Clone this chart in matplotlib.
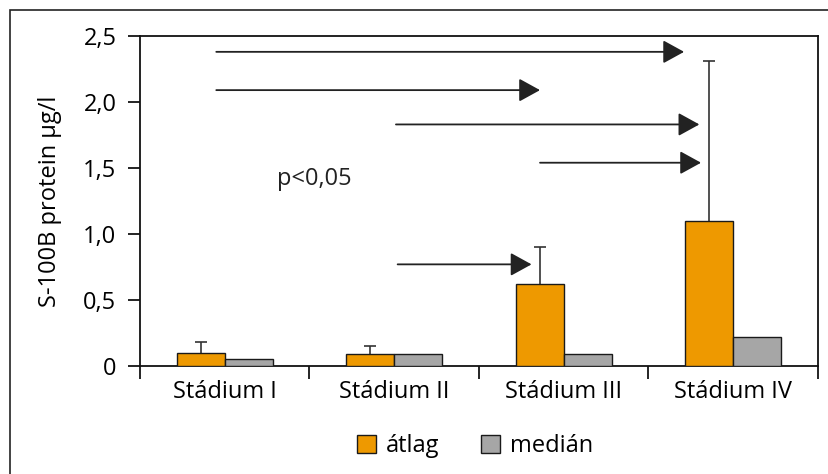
import matplotlib.pyplot as plt
import matplotlib.patches as mpatches
import numpy as np

plt.rcParams['font.family'] = ['Open Sans', 'DejaVu Sans']

stages = ['Stádium I', 'Stádium II', 'Stádium III', 'Stádium IV']
mean_vals = [0.10, 0.09, 0.62, 1.10]
mean_err = [0.08, 0.06, 0.28, 1.21]
median_vals = [0.05, 0.09, 0.09, 0.22]

# significance arrows: height, start, end (in category units)
arrow_y = [2.38, 2.09, 1.83, 1.54, 0.77]
arrow_from = [-0.05, -0.05, 1.01, 1.86, 1.02]
arrow_to = [2.71, 1.86, 2.80, 2.81, 1.81]

orange = '#EE9900'
grey = '#A6A6A6'
edge = '#1a1a1a'
fs = 17

fig = plt.figure(figsize=(8.29, 4.74), dpi=100)
# outer frame
fig.patches.append(mpatches.Rectangle((10 / 829, -0.1), 1.2, 0.1 + (474 - 10) / 474,
                                      transform=fig.transFigure, fill=False,
                                      edgecolor='#222222', linewidth=1.2))
ax = fig.add_axes([140 / 829, 108 / 474, 678 / 829, 330 / 474])

x = np.arange(len(stages))
w = 0.283
ax.bar(x - w / 2, mean_vals, w, color=orange, edgecolor=edge, linewidth=1.0,
       label='átlag', zorder=3)
eb = ax.errorbar(x - w / 2, mean_vals, yerr=[np.zeros(4), mean_err], fmt='none',
                 ecolor='#333333', elinewidth=1.2, capsize=4.5, capthick=1.2, zorder=2)
eb[1][0].set_visible(False)  # no lower caps
ax.bar(x + w / 2, median_vals, w, color=grey, edgecolor=edge, linewidth=1.0,
       label='medián', zorder=3)

for yy, x0, x1 in zip(arrow_y, arrow_from, arrow_to):
    ax.annotate('', xy=(x1, yy), xytext=(x0, yy),
                arrowprops=dict(arrowstyle='-|>,head_length=1.0,head_width=0.55',
                                mutation_scale=13, color='#222222', lw=1.3,
                                shrinkA=0, shrinkB=0))

ax.text(0.31, 1.42, 'p<0,05', fontsize=fs, va='center', ha='left', color='#222222')

ax.set_xlim(-0.5, 3.5)
ax.set_ylim(0, 2.5)
ax.set_yticks([0, 0.5, 1.0, 1.5, 2.0, 2.5])
ax.set_yticklabels(['0', '0,5', '1,0', '1,5', '2,0', '2,5'])
ax.set_xticks(x)
ax.set_xticklabels(stages)
ax.set_xticks(np.arange(-0.5, 4.0, 1.0), minor=True)
ax.tick_params(axis='x', which='major', length=0, pad=10, labelsize=fs)
ax.tick_params(axis='x', which='minor', length=9, width=1.2, direction='out')
ax.tick_params(axis='y', length=9, width=1.2, pad=8, labelsize=fs)
for s in ax.spines.values():
    s.set_linewidth(1.3)
    s.set_color('#111111')
ax.set_ylabel('S-100B protein µg/l', fontsize=fs, labelpad=15)

fig.legend(loc='center', bbox_to_anchor=(475 / 829, 28 / 474), ncol=2, frameon=False,
           fontsize=fs, handlelength=0.8, handleheight=0.8, handletextpad=0.4,
           columnspacing=1.8)

fig.savefig('out.png', dpi=100)
